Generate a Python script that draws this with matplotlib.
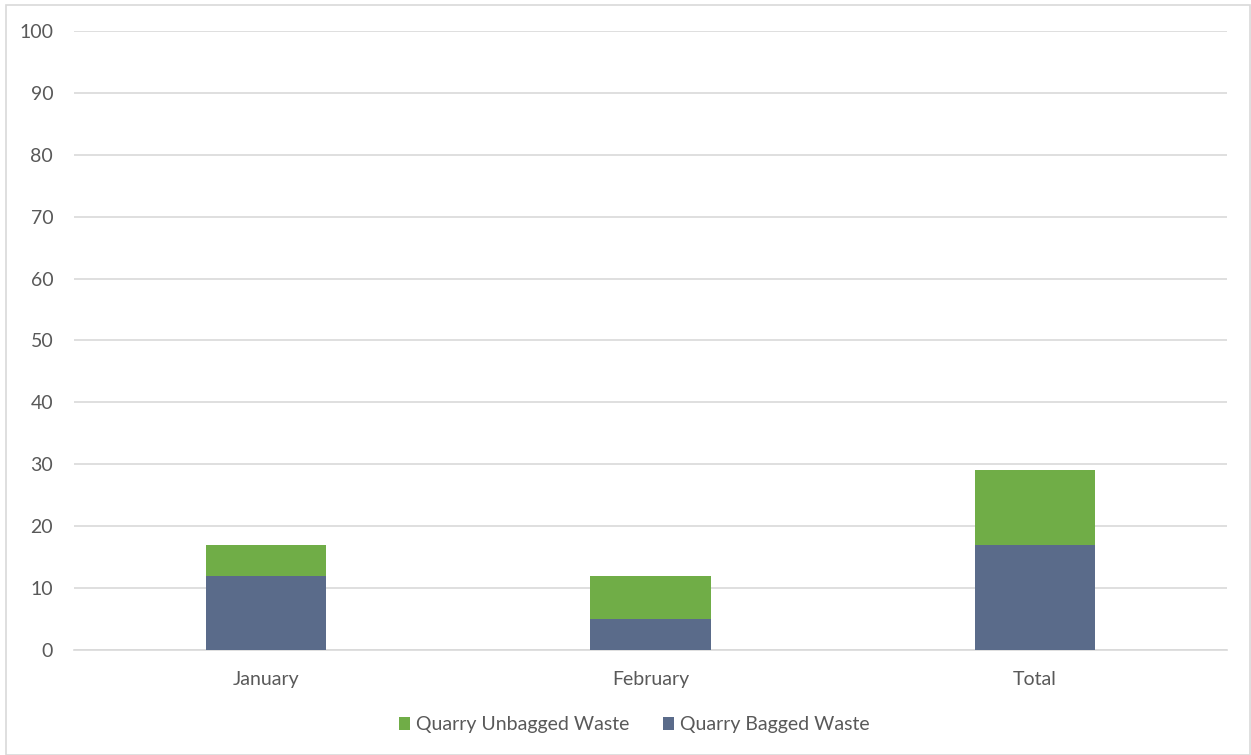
import numpy as np
import matplotlib.pyplot as plt
from matplotlib.patches import Rectangle

# data
categories = ["January", "February", "Total"]
bagged = [12, 5, 17]
unbagged = [5, 7, 12]
y_ticks = list(range(0, 101, 10))

bag_color = "#5a6b8a"
unbag_color = "#70ad47"
grid_color = "#d9d9d9"
text_color = "#595959"

plt.rcParams['font.family'] = ['Lato', 'DejaVu Sans']

fig = plt.figure(figsize=(12.51, 7.55), dpi=100)
ax = fig.add_axes([0.0592, 0.1391, 0.9216, 0.8199])

x = np.arange(len(categories))
width = 0.3125
ax.bar(x, bagged, width, color=bag_color, label="Quarry Bagged Waste", zorder=3)
ax.bar(x, unbagged, width, bottom=bagged, color=unbag_color, label="Quarry Unbagged Waste", zorder=3)

ax.set_xlim(-0.5, len(categories) - 0.5)
ax.set_ylim(0, 100)
ax.set_yticks(y_ticks)
ax.set_xticks(x)
ax.set_xticklabels(categories)
ax.tick_params(axis='both', length=0, labelsize=14, colors=text_color)
ax.tick_params(axis='y', pad=15)
ax.tick_params(axis='x', pad=15)
ax.yaxis.grid(True, color=grid_color, linewidth=1.2, zorder=0)
for s in ["top", "right", "left"]:
    ax.spines[s].set_visible(False)
ax.spines["bottom"].set_color(grid_color)
ax.spines["bottom"].set_linewidth(1.2)

# legend order: unbagged first
handles, labels = ax.get_legend_handles_labels()
leg = fig.legend(handles[::-1], labels[::-1], loc='center', bbox_to_anchor=(0.507, 0.040),
                 ncol=2, frameon=False, fontsize=14, handlelength=0.6, handleheight=0.6,
                 handletextpad=0.3, columnspacing=1.7)
for t in leg.get_texts():
    t.set_color(text_color)

# light border around the chart area
fig.patches.append(Rectangle((0.005, 0.0), 0.994, 0.993, transform=fig.transFigure,
                             fill=False, edgecolor=grid_color, linewidth=1.2))

fig.savefig("out.png", dpi=100)
